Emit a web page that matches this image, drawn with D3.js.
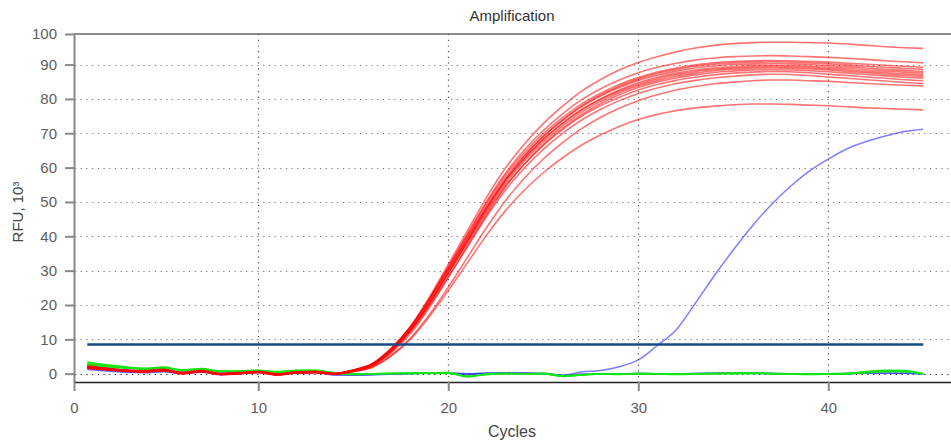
<!DOCTYPE html>
<html>
<head>
<meta charset="utf-8">
<script src="https://d3js.org/d3.v7.min.js"></script>
<style>
  body { margin: 0; background: #fff; }
  text { font-family: "Liberation Sans", Arial, sans-serif; }
</style>
</head>
<body>
<script>

// cycles 1..45
var cycles = d3.range(1, 46);

// red wells (RFU, 10^3), one array per well
var red1 = [2.1,1.5,1.0,0.8,1.2,0.3,0.9,0.0,0.3,0.6,-0.1,0.5,0.6,0.0,1.0,2.8,7.3,13.7,22.2,31.8,41.5,51.2,59.8,66.8,72.8,77.8,82.2,85.6,88.4,90.6,92.3,93.7,94.8,95.6,96.1,96.4,96.5,96.5,96.4,96.3,96.0,95.6,95.2,94.9,94.7];
var red2 = [1.8,1.3,0.8,0.6,1.0,0.1,0.7,-0.2,0.1,0.4,-0.3,0.3,0.4,0.0,1.0,2.8,7.2,13.5,21.8,31.1,40.6,50.0,58.3,65.1,70.8,75.6,79.7,82.9,85.5,87.6,89.2,90.4,91.3,91.9,92.3,92.5,92.6,92.5,92.3,92.1,91.8,91.5,91.1,90.8,90.5];
var red3 = [2.3,1.6,1.1,0.9,1.3,0.3,0.9,0.1,0.3,0.6,0.0,0.5,0.6,0.1,1.1,2.9,7.4,13.6,21.8,31.0,40.3,49.5,57.7,64.3,69.9,74.5,78.5,81.6,84.2,86.2,87.8,89.0,89.9,90.5,90.9,91.1,91.2,91.1,90.9,90.7,90.4,90.1,89.8,89.5,89.2];
var red4 = [1.6,1.2,0.7,0.5,0.9,0.0,0.6,-0.2,0.0,0.4,-0.3,0.3,0.4,-0.1,0.8,2.4,6.5,12.4,20.3,29.4,38.7,48.0,56.4,63.3,69.0,73.8,77.9,81.1,83.7,85.8,87.4,88.6,89.5,90.1,90.5,90.7,90.8,90.7,90.5,90.2,89.9,89.5,89.2,88.9,88.6];
var red5 = [2.0,1.4,0.9,0.7,1.1,0.2,0.8,-0.1,0.2,0.5,-0.2,0.4,0.5,0.0,1.0,2.8,7.1,13.2,21.3,30.4,39.6,48.8,56.9,63.5,69.1,73.7,77.7,80.8,83.3,85.4,86.9,88.1,89.0,89.6,90.0,90.2,90.3,90.2,90.0,89.7,89.4,89.0,88.6,88.3,88.0];
var red6 = [1.9,1.4,0.9,0.6,1.0,0.2,0.7,-0.1,0.2,0.5,-0.2,0.4,0.5,0.0,0.9,2.6,6.8,12.8,20.7,29.7,38.8,47.9,56.0,62.6,68.2,72.9,76.9,80.0,82.6,84.7,86.3,87.5,88.4,89.0,89.4,89.7,89.8,89.7,89.5,89.2,88.9,88.5,88.1,87.8,87.5];
var red7 = [2.2,1.6,1.0,0.8,1.2,0.3,0.9,0.0,0.3,0.6,-0.1,0.5,0.6,0.1,1.1,3.0,7.4,13.5,21.5,30.4,39.4,48.3,56.2,62.7,68.2,72.8,76.7,79.8,82.3,84.3,85.9,87.1,88.0,88.6,89.0,89.3,89.4,89.3,89.1,88.8,88.4,88.0,87.6,87.3,87.0];
var red8 = [1.7,1.3,0.8,0.6,1.0,0.1,0.7,-0.2,0.1,0.4,-0.3,0.3,0.4,0.0,0.9,2.5,6.6,12.5,20.3,29.2,38.3,47.3,55.3,61.9,67.5,72.1,76.1,79.2,81.8,83.8,85.4,86.6,87.5,88.2,88.6,88.9,89.0,88.9,88.7,88.4,88.0,87.6,87.2,86.8,86.5];
var red9 = [1.5,1.1,0.7,0.5,0.9,0.0,0.6,-0.3,0.0,0.3,-0.4,0.2,0.3,-0.1,0.7,2.2,6.0,11.6,19.2,28.0,37.1,46.1,54.3,61.0,66.7,71.4,75.4,78.6,81.2,83.3,84.9,86.1,87.0,87.7,88.1,88.4,88.5,88.4,88.2,87.9,87.5,87.1,86.7,86.3,86.0];
var red10 = [2.0,1.5,0.9,0.7,1.1,0.2,0.8,-0.1,0.2,0.5,-0.2,0.4,0.5,0.0,1.0,2.7,6.9,12.8,20.5,29.2,38.0,46.8,54.6,61.0,66.5,71.0,74.9,78.0,80.5,82.6,84.2,85.4,86.3,87.0,87.5,87.8,88.0,87.9,87.6,87.2,86.8,86.4,86.0,85.6,85.3];
var red11 = [1.8,1.3,0.8,0.6,1.0,0.1,0.7,-0.1,0.1,0.5,-0.2,0.3,0.4,0.0,0.9,2.5,6.5,12.2,19.7,28.2,36.9,45.6,53.4,59.8,65.3,69.9,73.8,76.9,79.5,81.6,83.2,84.5,85.4,86.1,86.6,87.0,87.2,87.1,86.8,86.4,86.0,85.6,85.2,84.8,84.5];
var red12 = [1.6,1.2,0.7,0.5,0.9,0.0,0.6,-0.2,0.0,0.4,-0.3,0.2,0.3,-0.1,0.6,1.9,5.3,10.3,17.2,25.2,33.8,42.4,50.3,56.9,62.5,67.2,71.3,74.6,77.3,79.5,81.2,82.6,83.6,84.4,84.9,85.3,85.5,85.5,85.3,85.1,84.8,84.5,84.2,84.0,83.8];
var red13 = [1.7,1.2,0.8,0.6,1.0,0.1,0.7,-0.2,0.1,0.4,-0.3,0.3,0.4,-0.1,0.6,1.9,5.2,10.0,16.6,24.2,32.2,40.2,47.4,53.4,58.5,62.8,66.5,69.5,72.0,74.0,75.5,76.6,77.4,77.9,78.3,78.5,78.5,78.4,78.2,78.0,77.7,77.4,77.2,77.0,76.8];

// blue wells: one late riser, two flat
var blue1 = [1.6,1.0,0.6,0.4,0.7,0.2,0.5,0.0,0.1,0.4,-0.2,0.3,0.4,-0.3,-0.4,-0.3,-0.1,0.1,0.1,0.2,0.0,0.1,0.2,0.1,0.0,-0.4,0.5,0.9,2.0,4.0,8.2,12.8,20.5,28.5,36.0,43.0,49.2,54.5,59.0,62.5,65.5,67.6,69.2,70.5,71.2];
var blue2 = [2.6,1.7,1.1,0.8,1.0,0.5,0.7,0.1,0.2,0.5,-0.1,0.4,0.5,-0.2,-0.3,-0.2,0.0,0.1,0.2,0.2,-0.1,0.2,0.2,0.2,0.1,-0.5,-0.1,0.0,-0.1,0.1,0.0,0.0,0.1,0.2,0.3,0.3,0.1,0.0,0.0,0.0,0.1,0.2,0.2,0.1,0.0];
var blue3 = [1.2,0.8,0.4,0.3,0.6,0.1,0.4,-0.2,0.0,0.3,-0.3,0.2,0.3,-0.4,-0.4,-0.3,-0.2,0.0,0.1,0.1,-0.2,0.0,0.1,0.1,0.0,-0.6,-0.2,-0.1,-0.1,0.0,-0.1,-0.1,0.0,0.1,0.1,0.1,0.0,-0.1,-0.1,0.0,0.0,0.1,0.1,0.1,-0.1];

// green wells, all negative
var green1 = [3.4,2.6,2.0,1.6,1.9,1.1,1.5,0.8,0.8,1.0,0.6,1.0,1.0,0.3,0.0,0.0,0.1,0.2,0.2,0.3,-0.8,-0.1,0.1,0.0,0.1,-0.6,-0.3,0.0,-0.1,0.1,0.0,-0.1,0.0,0.1,0.2,0.2,0.1,0.0,-0.1,0.0,0.1,0.6,1.0,0.9,0.0];
var green2 = [3.0,2.3,1.8,1.5,1.7,1.0,1.4,0.7,0.7,0.9,0.5,0.9,0.9,0.2,-0.1,0.0,0.1,0.1,0.2,0.2,-0.9,-0.2,0.0,0.0,0.0,-0.7,-0.4,-0.1,-0.2,0.0,-0.1,-0.1,0.0,0.0,0.1,0.1,0.0,-0.1,-0.1,-0.1,0.0,0.4,0.8,0.7,-0.1];
var green3 = [2.6,2.0,1.6,1.3,1.5,0.9,1.2,0.6,0.6,0.8,0.4,0.8,0.8,0.1,-0.2,-0.1,0.0,0.1,0.1,0.1,-0.7,-0.2,0.0,-0.1,0.0,-0.8,-0.4,-0.1,-0.1,0.0,-0.1,-0.2,-0.1,0.0,0.0,0.1,0.0,-0.1,-0.2,-0.1,0.0,0.3,0.6,0.6,-0.1];

var redWells = [red1, red2, red3, red4, red5, red6, red7, red8, red9, red10, red11, red12, red13];
var blueWells = [blue2, blue3, blue1];
var greenWells = [green1, green2, green3];

var threshold = 8.5;
var xTicks = [10, 20, 30, 40];
var yTicks = [0, 10, 20, 30, 40, 50, 60, 70, 80, 90];

var width = 951, height = 440;
var plotLeft = 74, plotTop = 34, plotBottom = 382;

var svg = d3.select("body").append("svg")
    .attr("width", width)
    .attr("height", height);

// x: cycle 0 sits just left of the y axis, as in the CFX plot
var x = d3.scaleLinear().domain([0, 46.46]).range([68.3, 951]);
var y = d3.scaleLinear().domain([-2.42, 98.9]).range([plotBottom, plotTop]);
var xStart = x.invert(plotLeft);

var line = d3.line()
    .x(function(d, i) { return x(cycles[i]); })
    .y(function(d) { return y(d); })
    .curve(d3.curveMonotoneX);

// dotted grid
svg.append("g").selectAll("line")
    .data(yTicks)
  .enter().append("line")
    .attr("x1", plotLeft + 1).attr("x2", width)
    .attr("y1", function(d) { return Math.round(y(d)) + 0.5; })
    .attr("y2", function(d) { return Math.round(y(d)) + 0.5; })
    .attr("stroke", function(d) { return d == 0 ? "#222" : "#777"; })
    .attr("stroke-width", 1.2)
    .attr("stroke-dasharray", "1.2,4.5");

svg.append("g").selectAll("line")
    .data(xTicks)
  .enter().append("line")
    .attr("y1", plotTop).attr("y2", plotBottom)
    .attr("x1", function(d) { return Math.round(x(d)) + 0.5; })
    .attr("x2", function(d) { return Math.round(x(d)) + 0.5; })
    .attr("stroke", "#555")
    .attr("stroke-width", 1.2)
    .attr("stroke-dasharray", "1.2,4.5");

// curves: blue under green, red on top
svg.append("g").selectAll("path")
    .data(blueWells)
  .enter().append("path")
    .attr("fill", "none")
    .attr("stroke", "rgba(40,40,255,0.6)")
    .attr("stroke-width", 1.5)
    .attr("d", line);

svg.append("g").selectAll("path")
    .data(greenWells)
  .enter().append("path")
    .attr("fill", "none")
    .attr("stroke", "#14e614")
    .attr("stroke-width", 1.6)
    .attr("d", line);

svg.append("g").selectAll("path")
    .data(redWells)
  .enter().append("path")
    .attr("fill", "none")
    .attr("stroke", "rgba(255,0,0,0.55)")
    .attr("stroke-width", 1.6)
    .attr("d", line);

// threshold
svg.append("line")
    .attr("x1", x(cycles[0])).attr("x2", x(cycles[cycles.length - 1]))
    .attr("y1", y(threshold)).attr("y2", y(threshold))
    .attr("stroke", "#174a85")
    .attr("stroke-width", 2.6);

// frame top
svg.append("line")
    .attr("x1", plotLeft).attr("x2", width)
    .attr("y1", plotTop).attr("y2", plotTop)
    .attr("stroke", "#666")
    .attr("stroke-width", 1.5);

// axes
var yAxis = d3.axisLeft(y)
    .tickValues(yTicks.concat([98.9]))
    .tickFormat(function(d) { return d > 95 ? "100" : d; })
    .tickSize(9)
    .tickSizeOuter(0)
    .tickPadding(8);

var gy = svg.append("g")
    .attr("transform", "translate(" + plotLeft + ",0)")
    .call(yAxis);

var xAxis = d3.axisBottom(x)
    .tickValues([xStart].concat(xTicks))
    .tickFormat(function(d) { return Math.round(d); })
    .tickSize(9)
    .tickSizeOuter(0)
    .tickPadding(11);

var gx = svg.append("g")
    .attr("transform", "translate(0," + plotBottom + ")")
    .call(xAxis);

gx.select(".domain").attr("d", "M" + plotLeft + ",0.5H" + width)
    .attr("stroke", "#222").attr("stroke-width", 1.5);
gy.select(".domain").attr("stroke", "#888").attr("stroke-width", 2);
svg.selectAll(".tick line").attr("stroke", "#888").attr("stroke-width", 2);
svg.selectAll(".tick text")
    .attr("fill", "#5e5e5e")
    .style("font-size", "15px")
    .style("font-family", "Liberation Sans, Arial, sans-serif");

// titles
svg.append("text")
    .attr("x", 512).attr("y", 21)
    .attr("text-anchor", "middle")
    .attr("fill", "#333")
    .style("font-size", "15px")
    .text("Amplification");

svg.append("text")
    .attr("x", 512).attr("y", 437)
    .attr("text-anchor", "middle")
    .attr("fill", "#444")
    .style("font-size", "16px")
    .text("Cycles");

svg.append("text")
    .attr("transform", "translate(23,212) rotate(-90)")
    .attr("text-anchor", "middle")
    .attr("fill", "#444")
    .style("font-size", "15px")
    .text("RFU, 10³");

</script>
</body>
</html>
